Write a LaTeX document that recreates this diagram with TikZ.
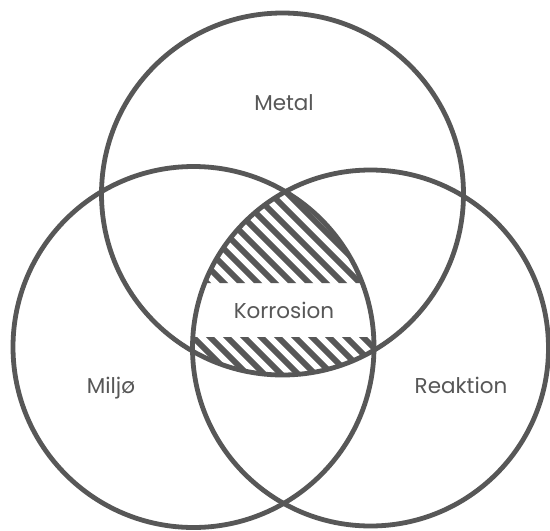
\documentclass[tikz,border=0pt]{standalone}
\usepackage{fontspec}
\setmainfont{Poppins}
\definecolor{ink}{HTML}{575757}
\tikzset{
  ring/.style={draw=ink, line width=4.8pt},
  hatchline/.style={draw=ink, line width=6pt},
  lbl/.style={text=ink, font=\fontsize{21.5}{26}\selectfont, inner sep=0pt, anchor=base}
}
\begin{document}
\begin{tikzpicture}[x=1pt,y=-1pt]
\useasboundingbox (0,0) rectangle (550,531);
\fill[white] (0,0) rectangle (550,531);
\coordinate (cM) at (282.5,194);
\coordinate (cL) at (193.5,347);
\coordinate (cR) at (370.5,348);
% hatching in the common region
\begin{scope}
  \clip (cM) circle (181);
  \clip (cL) circle (180.5);
  \clip (cR) circle (178);
  \clip (0,0) rectangle (550,283) (0,337) rectangle (550,531);
  \foreach \c in {-280,-263,...,150}{
    \draw[hatchline] (\c+100,100) -- (\c+460,460);
  }
\end{scope}
\draw[ring] (cM) circle (181);
\draw[ring] (cL) circle (180.5);
\draw[ring] (cR) circle (178);
\node[lbl] (metal) at (284,110) {Metal};
\node[lbl] (korr) at (284,318) {Korrosion};
\node[lbl] (milj) at (111,393) {Miljø};
\node[lbl] (reak) at (461,393) {Reaktion};
\end{tikzpicture}
\end{document}
